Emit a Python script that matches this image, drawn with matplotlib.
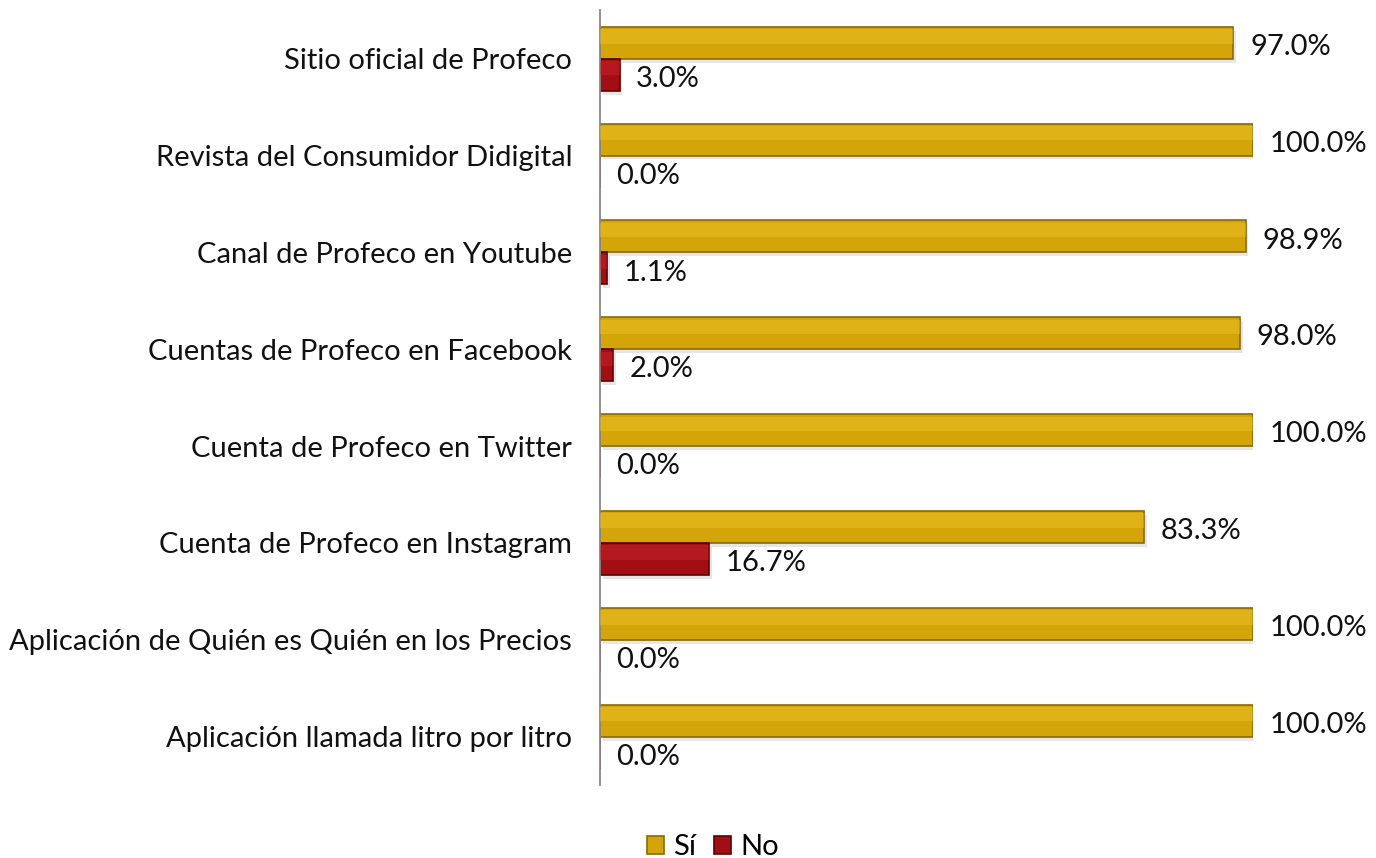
import matplotlib.pyplot as plt
import numpy as np

# categories top to bottom
categories = [
    'Sitio oficial de Profeco',
    'Revista del Consumidor Didigital',
    'Canal de Profeco en Youtube',
    'Cuentas de Profeco en Facebook',
    'Cuenta de Profeco en Twitter',
    'Cuenta de Profeco en Instagram',
    'Aplicación de Quién es Quién en los Precios',
    'Aplicación llamada litro por litro',
]
si_vals = [0.970, 1.000, 0.989, 0.980, 1.000, 0.833, 1.000, 1.000]
no_vals = [0.030, 0.000, 0.011, 0.020, 0.000, 0.167, 0.000, 0.000]

GOLD = '#D3A508'
GOLD_EDGE = '#8A6A04'
RED = '#A30E14'
RED_EDGE = '#5E0000'

plt.rcParams['font.family'] = ['Lato', 'DejaVu Sans']

fig = plt.figure(figsize=(13.76, 8.58), dpi=100)
ax = fig.add_axes([0.436, 0.085, 0.4746, 0.903])

y = np.arange(len(categories))
h = 0.33

# soft shadow under the bars
ax.barh(y - h / 2 + 0.04, si_vals, height=h, left=0.004, color='#cfcfcf', alpha=0.5, zorder=1)
ax.barh(y + h / 2 + 0.04, no_vals, height=h, left=0.004, color='#cfcfcf', alpha=0.5, zorder=1)

b1 = ax.barh(y - h / 2, si_vals, height=h, color=GOLD, edgecolor=GOLD_EDGE, linewidth=1.2, label='Sí', zorder=2)
b2 = ax.barh(y + h / 2, no_vals, height=h, color=RED, edgecolor=RED_EDGE, linewidth=1.2, label='No', zorder=2)

# lighter upper half of each bar
ax.barh(y - h / 2 - h * 0.2, si_vals, height=h * 0.45, color='#EFC62A', alpha=0.45, linewidth=0, zorder=3)
ax.barh(y + h / 2 - h * 0.2, no_vals, height=h * 0.45, color='#CC2A30', alpha=0.4, linewidth=0, zorder=3)

for i in range(len(categories)):
    ax.annotate('%.1f%%' % (si_vals[i] * 100), (si_vals[i], y[i] - h / 2),
                xytext=(12, -3), textcoords='offset points', va='center', ha='left',
                fontsize=21, color='#111111', annotation_clip=False)
    ax.annotate('%.1f%%' % (no_vals[i] * 100), (no_vals[i], y[i] + h / 2),
                xytext=(12, -3), textcoords='offset points', va='center', ha='left',
                fontsize=21, color='#111111', annotation_clip=False)

ax.set_yticks(y)
ax.set_yticklabels(categories, fontsize=21, color='#111111')
ax.tick_params(axis='y', length=0, pad=20)
ax.set_xticks([])
ax.set_xlim(0, 1.0)
ax.set_ylim(len(categories) - 0.5, -0.5)

for s in ['top', 'right', 'bottom']:
    ax.spines[s].set_visible(False)
ax.spines['left'].set_color('#888888')
ax.spines['left'].set_linewidth(1.3)
ax.patch.set_alpha(0)

fig.legend(handles=[b1, b2], labels=['Sí', 'No'], loc='lower center',
           bbox_to_anchor=(0.518, -0.033), ncol=2, frameon=False, fontsize=21,
           handlelength=0.6, handleheight=0.6, handletextpad=0.3, columnspacing=0.6)

fig.savefig('out.png', dpi=100, facecolor='white')
